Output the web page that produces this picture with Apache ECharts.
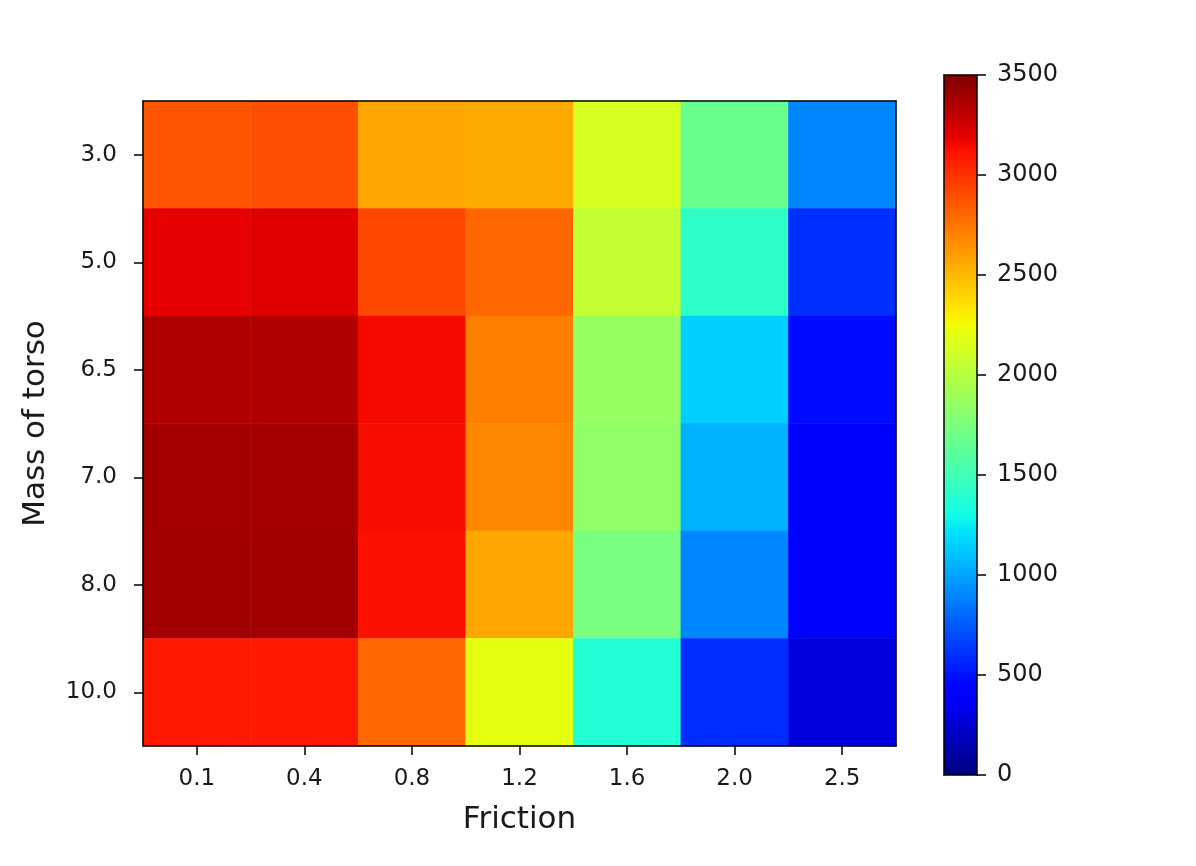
<!DOCTYPE html>
<html>
<head>
<meta charset="utf-8">
<script src="https://cdn.jsdelivr.net/npm/echarts@6/dist/echarts.min.js"></script>
<style>html,body{margin:0;padding:0;background:#fff}#c{width:1196px;height:866px}</style>
</head>
<body>
<div id="c"></div>
<script>
var frictions = ['0.1', '0.4', '0.8', '1.2', '1.6', '2.0', '2.5'];
var masses = ['3.0', '5.0', '6.5', '7.0', '8.0', '10.0'];
// one row per mass, values per friction
var row_3_0  = [2870, 2890, 2570, 2555, 2140, 1670, 900];
var row_5_0  = [3190, 3205, 2920, 2800, 2060, 1420, 600];
var row_6_5  = [3355, 3355, 3145, 2715, 1865, 1150, 470];
var row_7_0  = [3385, 3390, 3140, 2685, 1840, 1045, 410];
var row_8_0  = [3400, 3400, 3125, 2565, 1735, 900, 400];
var row_10_0 = [3095, 3095, 2800, 2205, 1375, 590, 280];
var colorTicks = ['0', '500', '1000', '1500', '2000', '2500', '3000', '3500'];

var rows = [row_3_0, row_5_0, row_6_5, row_7_0, row_8_0, row_10_0];
var data = [];
rows.forEach(function (r, yi) {
  r.forEach(function (v, xi) { data.push([xi, yi, v]); });
});

// matplotlib jet colormap
function seg(pts, t) {
  for (var i = 1; i < pts.length; i++) {
    if (t <= pts[i][0]) {
      var a = pts[i - 1], b = pts[i];
      return a[1] + (b[1] - a[1]) * (t - a[0]) / (b[0] - a[0]);
    }
  }
  return pts[pts.length - 1][1];
}
var R = [[0, 0], [0.35, 0], [0.66, 1], [0.89, 1], [1, 0.5]];
var G = [[0, 0], [0.125, 0], [0.375, 1], [0.64, 1], [0.91, 0], [1, 0]];
var B = [[0, 0.5], [0.11, 1], [0.34, 1], [0.65, 0], [1, 0]];
var jet = [];
for (var i = 0; i <= 200; i++) {
  var t = i / 200;
  jet.push('rgb(' + Math.round(seg(R, t) * 255) + ',' + Math.round(seg(G, t) * 255) + ',' + Math.round(seg(B, t) * 255) + ')');
}

var FONT = 'DejaVu Sans';
var TXT = '#1a1a1a';
var chart = echarts.init(document.getElementById('c'), null, {renderer: 'canvas'});
var frame = {show: true, onZero: false, lineStyle: {color: '#000', width: 1.5}};
var tick = {show: true, inside: false, alignWithLabel: true, length: 9, lineStyle: {color: '#000', width: 1.5}};
var bare = {axisLine: frame, axisTick: {show: false}, axisLabel: {show: false}, splitLine: {show: false}, z: 10};
chart.setOption({
  backgroundColor: '#fff',
  animation: false,
  grid: [
    {left: 143, top: 101, width: 753, height: 645},
    {left: 944, top: 75, width: 33, height: 700}
  ],
  xAxis: [
    {type: 'category', gridIndex: 0, data: frictions, position: 'bottom',
     axisLine: frame, axisTick: tick,
     axisLabel: {fontFamily: FONT, fontSize: 23, color: TXT, margin: 22},
     name: 'Friction', nameLocation: 'middle', nameGap: 58,
     nameTextStyle: {fontFamily: FONT, fontSize: 31, color: TXT},
     splitLine: {show: false}, z: 10},
    Object.assign({type: 'category', gridIndex: 0, data: frictions, position: 'top'}, bare),
    Object.assign({type: 'value', gridIndex: 1, min: 0, max: 1, position: 'bottom'}, bare),
    Object.assign({type: 'value', gridIndex: 1, min: 0, max: 1, position: 'top'}, bare)
  ],
  yAxis: [
    {type: 'category', gridIndex: 0, data: masses, inverse: true, position: 'left',
     axisLine: frame, axisTick: tick,
     axisLabel: {fontFamily: FONT, fontSize: 23, color: TXT, margin: 26},
     name: 'Mass of torso', nameLocation: 'middle', nameGap: 92,
     nameTextStyle: {fontFamily: FONT, fontSize: 31, color: TXT},
     splitLine: {show: false}, z: 10},
    Object.assign({type: 'category', gridIndex: 0, data: masses, inverse: true, position: 'right'}, bare),
    {type: 'value', gridIndex: 1, min: 0, max: 3500, interval: 500, position: 'right',
     axisLine: frame, axisTick: {show: true, inside: false, length: 9, lineStyle: {color: '#000', width: 1.5}},
     axisLabel: {fontFamily: FONT, fontSize: 24, color: TXT, margin: 20,
       formatter: function (v) { return colorTicks[Math.round(v / 500)]; }},
     splitLine: {show: false}, z: 10},
    Object.assign({type: 'value', gridIndex: 1, min: 0, max: 3500, position: 'left'}, bare)
  ],
  visualMap: {
    type: 'continuous', min: 0, max: 3500, calculable: false,
    left: 944, top: 75, itemWidth: 33, itemHeight: 700, padding: 0,
    orient: 'vertical', seriesIndex: 0, text: null,
    inRange: {color: jet}
  },
  series: [{
    type: 'heatmap', xAxisIndex: 0, yAxisIndex: 0, data: data,
    itemStyle: {borderWidth: 0},
    emphasis: {disabled: true},
    progressive: 0
  }]
});
</script>
</body>
</html>
